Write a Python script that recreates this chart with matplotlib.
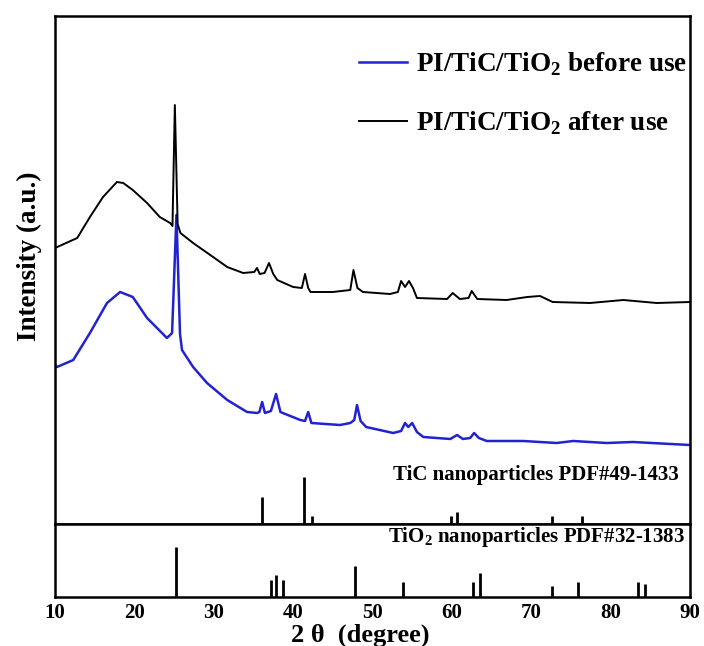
import matplotlib
matplotlib.use("Agg")
import matplotlib.pyplot as plt

plt.rcParams["font.family"] = ["Liberation Serif", "DejaVu Serif"]
plt.rcParams["font.weight"] = "bold"
plt.rcParams["axes.labelweight"] = "bold"
plt.rcParams["mathtext.fontset"] = "custom"
plt.rcParams["mathtext.rm"] = "Liberation Serif:bold"
plt.rcParams["mathtext.bf"] = "Liberation Serif:bold"

# PI/TiC/TiO2 after use (black)
after_2theta = [10.0, 12.8, 14.4, 16.05, 17.8, 18.6, 19.8, 21.6, 23.2, 24.5, 24.8,
                25.1, 25.45, 25.8, 27.4, 29.2, 31.7, 33.7, 35.1, 35.45, 35.8, 36.4,
                36.96, 37.5, 38.0, 40.0, 41.1, 41.5, 41.9, 42.2, 45.0, 47.2, 47.6,
                48.1, 48.8, 52.2, 53.2, 53.6, 54.1, 54.6, 55.1, 55.6, 59.4, 60.1,
                61.0, 62.1, 62.5, 63.2, 66.9, 69.5, 71.1, 72.7, 77.4, 81.6, 85.8, 90.0]
after_int = [276, 286, 307, 327, 342, 341, 334, 321, 307, 301, 298,
             419, 300, 291, 281, 271, 257, 251, 252, 256, 250, 251,
             261, 250, 244, 237, 236, 250, 236, 232, 232, 234, 254,
             236, 232, 230, 232, 243, 237, 243, 236, 226, 225, 231,
             225, 226, 233, 225, 224, 227, 228, 222, 221, 224, 221, 222]

# PI/TiC/TiO2 before use (blue)
before_2theta = [10.0, 10.25, 12.3, 14.4, 16.55, 18.2, 19.8, 21.6, 24.1, 24.75,
                 25.3, 25.75, 26.0, 27.4, 29.15, 31.7, 34.2, 35.45, 35.75, 36.1,
                 36.45, 37.2, 37.85, 38.4, 38.7, 40.9, 41.5, 41.9, 42.3, 45.9,
                 47.2, 47.7, 48.05, 48.5, 49.2, 52.6, 53.6, 54.1, 54.5, 55.0,
                 55.6, 56.4, 59.8, 60.65, 61.4, 62.3, 62.8, 63.4, 64.4, 69.0,
                 73.2, 75.3, 79.5, 82.8, 90.0]
before_int = [159, 157, 164, 191, 221, 232, 227, 206, 186, 191,
              309, 190, 174, 157, 141, 124, 112, 111, 112, 122,
              111, 113, 130, 112, 111, 104, 103, 112, 101, 99,
              101, 104, 119, 103, 97, 91, 93, 101, 97, 101,
              92, 87, 85, 89, 85, 86, 91, 86, 83, 83,
              81, 83, 81, 82, 79]

# reference patterns
tic_pos = [36.04, 41.41, 42.34, 59.9, 60.7, 72.66, 76.4]
tic_int = [27, 47, 8, 8, 12, 8, 8]
tio2_pos = [25.24, 37.17, 37.84, 38.7, 47.8, 53.8, 62.6, 63.5, 72.66, 75.9, 83.4, 84.3]
tio2_int = [50, 17, 22, 17, 31, 15, 15, 24, 11, 15, 15, 13]

fig = plt.figure(figsize=(7.04, 6.46), dpi=100)
left, width = 55 / 704, 635 / 704
ax = fig.add_axes([left, 1 - 524 / 646, width, 508 / 646])
ax2 = fig.add_axes([left, 1 - 597 / 646, width, 73 / 646])

ax.plot(before_2theta, before_int, color="#2222d0", lw=1.8, label=r"PI/TiC/TiO$_2$ before use")
ax.plot(after_2theta, after_int, color="black", lw=1.4, label=r"PI/TiC/TiO$_2$ after use")
ax.vlines(tic_pos, 0, tic_int, color="black", lw=2)
ax.text(88.6, 49, "TiC nanoparticles PDF#49-1433", ha="right", va="center", fontsize=15)
ax.set_xlim(10, 90)
ax.set_ylim(0, 508)
ax.set_xticks([])
ax.set_yticks([])
ax.set_ylabel("Intensity (a.u.)", fontsize=19.5)
ax.yaxis.set_label_coords(-0.02, 0.528)
ax.legend(loc="upper right", bbox_to_anchor=(1.034, 0.98), frameon=False, fontsize=19.5,
          handlelength=1.75, handletextpad=0.35, labelspacing=1.15)

ax2.vlines(tio2_pos, 0, tio2_int, color="black", lw=2)
ax2.text(89.4, 60, r"TiO$_2$ nanoparticles PDF#32-1383", ha="right", va="center", fontsize=15)
ax2.set_xlim(10, 90)
ax2.set_ylim(0, 73)
ax2.set_yticks([])
ax2.set_xticks(range(10, 91, 10))
ax2.tick_params(axis="x", length=0, pad=4, labelsize=15)
ax2.set_xlabel("2 θ  (degree)", fontsize=19, labelpad=0)
ax2.xaxis.set_label_coords(0.48, -0.36)

for a in (ax, ax2):
    for s in a.spines.values():
        s.set_linewidth(1.8)

fig.savefig("out.png", dpi=100)
